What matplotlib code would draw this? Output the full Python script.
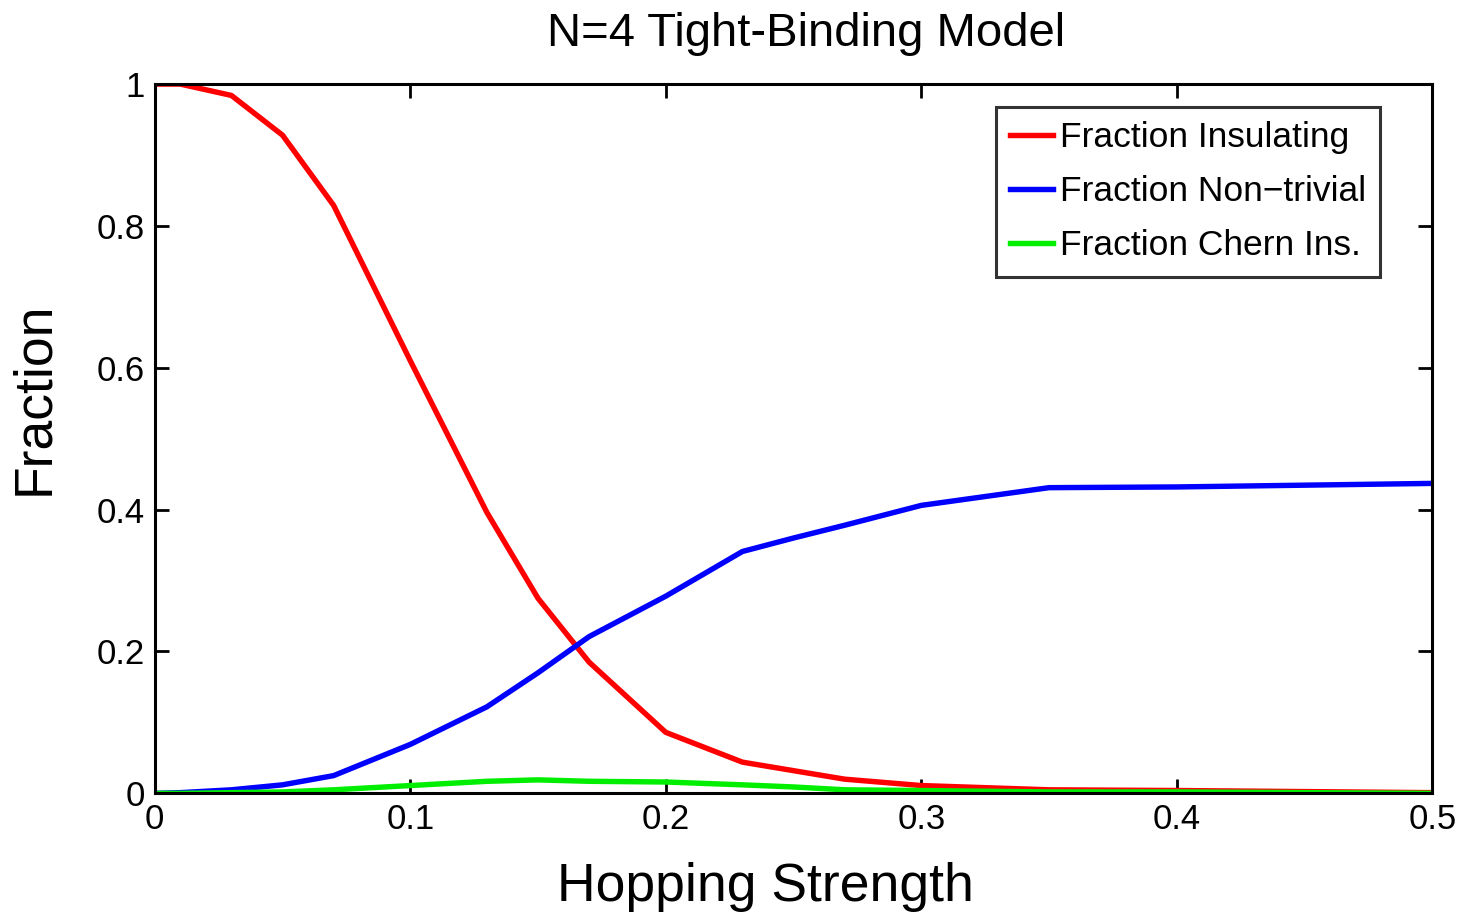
import matplotlib.pyplot as plt

plt.rcParams['font.family'] = ['Liberation Sans', 'DejaVu Sans']

hopping = [0, 0.01, 0.03, 0.05, 0.07, 0.1, 0.13, 0.15, 0.17, 0.2, 0.23, 0.25, 0.27, 0.3, 0.35, 0.4, 0.5]
insulating = [1.0, 1.0, 0.984, 0.928, 0.829, 0.61, 0.396, 0.275, 0.185, 0.086, 0.044, 0.032, 0.02, 0.011, 0.005, 0.004, 0.001]
nontrivial = [0.0, 0.001, 0.005, 0.012, 0.025, 0.069, 0.122, 0.17, 0.221, 0.278, 0.341, 0.36, 0.378, 0.406, 0.431, 0.432, 0.437]
chern = [0.0, 0.0, 0.001, 0.002, 0.005, 0.011, 0.017, 0.019, 0.017, 0.016, 0.012, 0.009, 0.005, 0.004, 0.002, 0.002, 0.0]

fig = plt.figure(figsize=(14.6, 9.14), dpi=100)
ax = fig.add_axes([0.106, 0.132, 0.875, 0.776])

ax.plot(hopping, insulating, color='#ff0000', lw=3.9, label='Fraction Insulating')
ax.plot(hopping, nontrivial, color='#0000ff', lw=3.9, label='Fraction Non\u2212trivial')
ax.plot(hopping, chern, color='#00ee00', lw=3.9, label='Fraction Chern Ins.')

ax.set_xlim(0, 0.5)
ax.set_ylim(0, 1)
ax.set_xticks([0, 0.1, 0.2, 0.3, 0.4, 0.5])
ax.set_xticklabels(['0', '0.1', '0.2', '0.3', '0.4', '0.5'])
ax.set_yticks([0, 0.2, 0.4, 0.6, 0.8, 1])
ax.set_yticklabels(['0', '0.2', '0.4', '0.6', '0.8', '1'])
ax.tick_params(direction='in', length=10, width=2, labelsize=25, top=True, right=True, pad=7)
for s in ax.spines.values():
    s.set_linewidth(2.2)

ax.set_title('N=4 Tight-Binding Model', fontsize=34, pad=0, x=0.51, y=1.053)
ax.set_xlabel('Hopping Strength', fontsize=38.5)
ax.xaxis.set_label_coords(0.478, -0.097)
ax.set_ylabel('Fraction', fontsize=38.5)
ax.yaxis.set_label_coords(-0.075, 0.557)

leg = ax.legend(loc='upper right', bbox_to_anchor=(0.959, 0.968), fontsize=25.5,
                frameon=True, fancybox=False, edgecolor='black', handlelength=1.2,
                borderaxespad=0, labelspacing=0.6, handletextpad=0.2, borderpad=0.4)
leg.get_frame().set_linewidth(2.2)

fig.savefig('out.png', dpi=100)
